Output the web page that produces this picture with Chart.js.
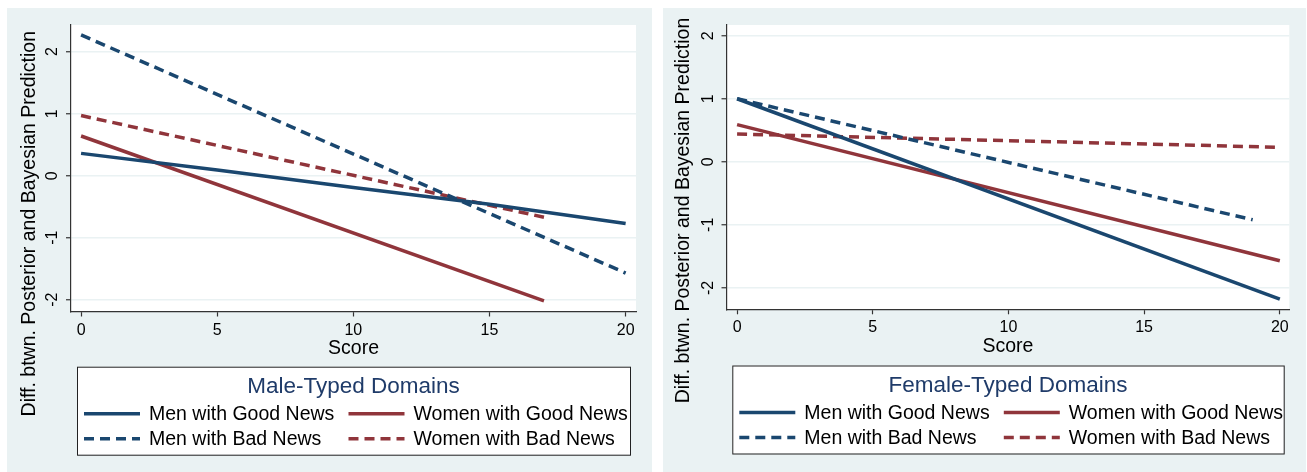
<!DOCTYPE html>
<html>
<head>
<meta charset="utf-8">
<script src="https://cdn.jsdelivr.net/npm/chart.js@4.4.1/dist/chart.umd.min.js"></script>
<style>
  html, body { margin: 0; background: #fff; }
  #wrap { position: relative; width: 1307px; height: 472px; overflow: hidden; }
  canvas { position: absolute; top: 8px; }
  #male { left: 7px; }
  #female { left: 663px; }
</style>
</head>
<body>
<div id="wrap">
  <canvas id="male" width="645" height="464"></canvas>
  <canvas id="female" width="643" height="464"></canvas>
</div>
<script>
// Legend labels, axis text and tick values
const seriesLabels = ['Men with Good News', 'Women with Good News', 'Men with Bad News', 'Women with Bad News'];
const xTicks = [0, 5, 10, 15, 20];
const yTicks = [-2, -1, 0, 1, 2];
const xTitle = 'Score';
const yTitle = 'Diff. btwn. Posterior and Bayesian Prediction';

// Male-typed domains (left panel)
const maleMenGoodX = [0, 5, 10, 15, 20];
const maleMenGoodY = [0.36, 0.09, -0.19, -0.46, -0.77];
const maleWomenGoodX = [0, 17];
const maleWomenGoodY = [0.64, -2.02];
const maleMenBadX = [0, 20];
const maleMenBadY = [2.27, -1.57];
const maleWomenBadX = [0, 17];
const maleWomenBadY = [0.97, -0.67];

// Female-typed domains (right panel)
const femaleMenGoodX = [0, 20];
const femaleMenGoodY = [1.0, -2.18];
const femaleWomenGoodX = [0, 20];
const femaleWomenGoodY = [0.59, -1.57];
const femaleMenBadX = [0, 19];
const femaleMenBadY = [1.0, -0.92];
const femaleWomenBadX = [0, 20];
const femaleWomenBadY = [0.44, 0.23];

const NAVY = '#1a476f';
const MAROON = '#90353b';
const BG = '#eaf2f3';
const FONT = '"Liberation Sans", Arial, Helvetica, sans-serif';

const toPoints = (xs, ys) => xs.map((x, i) => ({ x, y: ys[i] }));

// background, white plot region, rotated y title and the boxed legend
const panelDecor = {
  id: 'panelDecor',
  beforeDraw(chart, args, opts) {
    const { ctx, chartArea: a, width, height } = chart;
    ctx.save();
    ctx.fillStyle = BG;
    ctx.fillRect(0, 0, width, height);
    ctx.fillStyle = '#fff';
    ctx.fillRect(a.left, a.top, a.right - a.left, a.bottom - a.top);
    ctx.restore();
  },
  afterDraw(chart, args, opts) {
    const ctx = chart.ctx;
    ctx.save();
    // y axis title
    ctx.translate(opts.yTitleX, opts.yTitleY);
    ctx.rotate(-Math.PI / 2);
    ctx.font = `19.5px ${FONT}`;
    ctx.fillStyle = '#000';
    ctx.textAlign = 'center';
    ctx.textBaseline = 'middle';
    ctx.fillText(yTitle, 0, 0);
    ctx.restore();

    // legend
    const L = opts.legend;
    ctx.save();
    ctx.fillStyle = '#fff';
    ctx.fillRect(L.left, L.top, L.width, L.height);
    ctx.strokeStyle = '#222';
    ctx.lineWidth = 1;
    ctx.strokeRect(L.left + 0.5, L.top + 0.5, L.width, L.height);
    ctx.font = `22.5px ${FONT}`;
    ctx.fillStyle = '#1f3b69';
    ctx.textAlign = 'center';
    ctx.textBaseline = 'middle';
    ctx.fillText(L.title, L.left + L.width / 2, L.top + L.titleDy);

    ctx.font = `19.5px ${FONT}`;
    ctx.textAlign = 'left';
    chart.data.datasets.forEach((ds, i) => {
      const col = i % 2, row = Math.floor(i / 2);
      const x0 = L.left + L.colX[col];
      const y = L.top + L.rowDy[row];
      ctx.beginPath();
      ctx.strokeStyle = ds.borderColor;
      ctx.lineWidth = ds.borderWidth;
      ctx.setLineDash(ds.borderDash || []);
      ctx.moveTo(x0, y);
      ctx.lineTo(x0 + L.sampleW, y);
      ctx.stroke();
      ctx.setLineDash([]);
      ctx.fillStyle = '#000';
      ctx.fillText(ds.label, x0 + L.sampleW + 9, y + 1);
    });
    ctx.restore();
  }
};

function makePanel(canvas, series, p) {
  const styles = [
    { borderColor: NAVY, borderDash: [] },
    { borderColor: MAROON, borderDash: [] },
    { borderColor: NAVY, borderDash: [10, 6] },
    { borderColor: MAROON, borderDash: [10, 6] },
  ];
  const datasets = series.map((s, i) => ({
    label: seriesLabels[i],
    data: toPoints(s[0], s[1]),
    borderColor: styles[i].borderColor,
    borderDash: styles[i].borderDash,
    borderWidth: 3.5,
    pointRadius: 0,
    fill: false,
    tension: 0,
  }));

  return new Chart(canvas.getContext('2d'), {
    type: 'line',
    data: { datasets },
    options: {
      responsive: false,
      animation: false,
      devicePixelRatio: 1,
      layout: { padding: { left: 0, top: p.top, right: p.right, bottom: p.bottom } },
      scales: {
        x: {
          type: 'linear',
          min: p.xMin,
          max: p.xMax,
          afterBuildTicks: (scale) => { scale.ticks = xTicks.map((v) => ({ value: v })); },
          afterFit: (scale) => { scale.height = 49; },
          grid: { drawOnChartArea: false, tickLength: 5, tickColor: '#333', tickWidth: 1.2 },
          border: { color: '#333', width: 1.2 },
          ticks: { color: '#000', font: { family: FONT, size: 16 }, padding: 4, maxRotation: 0 },
          title: { display: true, text: xTitle, color: '#000', font: { family: FONT, size: 19.5 }, padding: 0 },
        },
        y: {
          min: p.yMin,
          max: p.yMax,
          afterBuildTicks: (scale) => { scale.ticks = yTicks.map((v) => ({ value: v })); },
          afterFit: (scale) => { scale.width = p.yWidth; },
          grid: { color: BG, lineWidth: 1.5, tickLength: 5, tickColor: '#333', tickWidth: 1.2 },
          border: { color: '#333', width: 1.2 },
          ticks: {
            color: '#000',
            font: { family: FONT, size: 16 },
            minRotation: 90,
            maxRotation: 90,
            crossAlign: 'center',
            padding: 6,
            callback: (v) => String(v),
          },
        },
      },
      plugins: {
        legend: { display: false },
        tooltip: { enabled: false },
        panelDecor: {
          yTitleX: p.yTitleX,
          yTitleY: p.yTitleY,
          legend: {
            title: p.legendTitle,
            left: p.legLeft,
            top: p.legTop,
            width: p.legWidth,
            height: 88,
            titleDy: 20,
            rowDy: [47, 72],
            colX: [7, 271.5],
            sampleW: 56,
          },
        },
      },
    },
    plugins: [panelDecor],
  });
}

makePanel(
  document.getElementById('male'),
  [
    [maleMenGoodX, maleMenGoodY],
    [maleWomenGoodX, maleWomenGoodY],
    [maleMenBadX, maleMenBadY],
    [maleWomenBadX, maleWomenBadY],
  ],
  {
    top: 17, right: 16, bottom: 111.5, yWidth: 64,
    xMin: -0.37, xMax: 20.38, yMin: -2.19, yMax: 2.43,
    yTitleX: 23, yTitleY: 215.7,
    legendTitle: 'Male-Typed Domains', legLeft: 70, legTop: 358.7, legWidth: 553,
  }
);

makePanel(
  document.getElementById('female'),
  [
    [femaleMenGoodX, femaleMenGoodY],
    [femaleWomenGoodX, femaleWomenGoodY],
    [femaleMenBadX, femaleMenBadY],
    [femaleWomenBadX, femaleWomenBadY],
  ],
  {
    top: 17, right: 16.7, bottom: 113.7, yWidth: 63.5,
    xMin: -0.39, xMax: 20.35, yMin: -2.34, yMax: 2.17,
    yTitleX: 20.3, yTitleY: 202.5,
    legendTitle: 'Female-Typed Domains', legLeft: 69.3, legTop: 357.5, legWidth: 551.4,
  }
);
</script>
</body>
</html>
